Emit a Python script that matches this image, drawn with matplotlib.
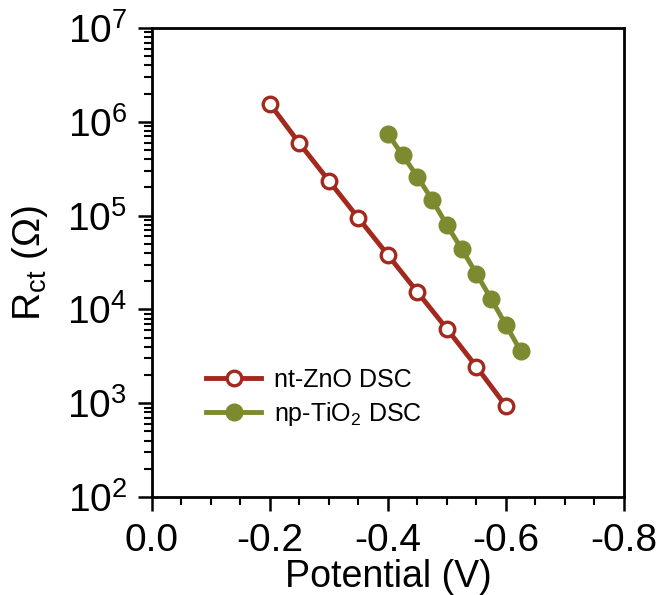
import math
import matplotlib
matplotlib.use("Agg")
import matplotlib.pyplot as plt
from matplotlib.ticker import LogLocator, FixedLocator, MultipleLocator, FuncFormatter, NullFormatter

plt.rcParams['font.family'] = ['Liberation Sans', 'DejaVu Sans']
plt.rcParams['mathtext.fontset'] = 'custom'
plt.rcParams['mathtext.rm'] = 'Liberation Sans'
plt.rcParams['mathtext.it'] = 'Liberation Sans'

# nt-ZnO DSC (circulos vacios)
zno_potencial = [-0.20, -0.25, -0.30, -0.35, -0.40, -0.45, -0.50, -0.55, -0.60]
zno_rct = [1.55e6, 5.9e5, 2.35e5, 9.4e4, 3.8e4, 1.53e4, 6.2e3, 2.45e3, 9.3e2]

# np-TiO2 DSC (circulos rellenos)
tio2_potencial = [-0.400, -0.425, -0.450, -0.475, -0.500, -0.525, -0.550, -0.575, -0.600, -0.625]
tio2_rct = [7.4e5, 4.4e5, 2.6e5, 1.47e5, 7.9e4, 4.4e4, 2.4e4, 1.29e4, 6.8e3, 3.6e3]

etiquetas = ["nt-ZnO DSC", r"np-Ti$\mathregular{O_2}$ DSC"]
rojo = '#a3291f'
verde = '#7e8a2f'

fig = plt.figure(figsize=(6.56, 5.95), dpi=100)
ax = fig.add_axes([0.2317, 0.1647, 0.7195, 0.788])

ax.plot(zno_potencial, zno_rct, '-o', color=rojo, lw=3.5, ms=10.5,
        mfc='white', mec=rojo, mew=2.4, label=etiquetas[0])
ax.plot(tio2_potencial, tio2_rct, '-o', color=verde, lw=3.5, ms=12,
        mfc=verde, mec=verde, label=etiquetas[1])

ax.set_yscale('log')
ax.set_ylim(1e2, 1e7)
ax.set_xlim(0.0, -0.8)

# Ticks del eje x
ax.xaxis.set_major_locator(FixedLocator([0.0, -0.2, -0.4, -0.6, -0.8]))
ax.xaxis.set_minor_locator(MultipleLocator(0.05))
ax.xaxis.set_major_formatter(FuncFormatter(lambda v, p: "0.0" if abs(v) < 1e-9 else "%.1f" % v))

# Ticks del eje y
ax.yaxis.set_major_locator(LogLocator(base=10, numticks=10))
ax.yaxis.set_minor_locator(LogLocator(base=10, subs=range(2, 10), numticks=10))
ax.yaxis.set_major_formatter(FuncFormatter(lambda v, p: r"$\mathregular{10^{%d}}$" % round(math.log10(v))))
ax.yaxis.set_minor_formatter(NullFormatter())

ax.tick_params(which='major', direction='out', length=10, width=1.8, labelsize=28)
ax.tick_params(axis='x', which='major', pad=9)
ax.tick_params(axis='y', which='major', pad=8)
ax.tick_params(which='minor', direction='out', length=6, width=1.5)
ax.tick_params(top=False, right=False, which='both')
for s in ax.spines.values():
    s.set_linewidth(2)

ax.set_xlabel("Potential (V)", fontsize=27, labelpad=0)
ax.set_ylabel(r"$\mathregular{R_{ct}}$ (Ω)", fontsize=28, labelpad=12)

ax.legend(loc='upper left', bbox_to_anchor=(0.115, 0.275), frameon=False,
          fontsize=18, handlelength=2.2, handletextpad=0.5, labelspacing=0.3,
          borderpad=0, borderaxespad=0)

fig.savefig("out.png", dpi=100)
